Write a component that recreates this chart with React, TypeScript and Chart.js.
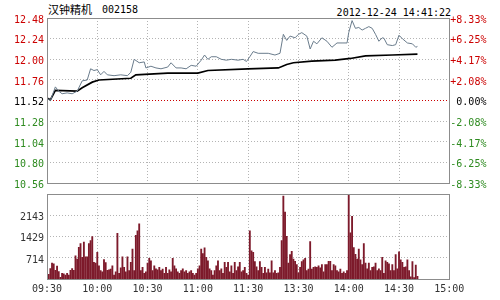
import React, { useEffect, useRef } from "react";
import { Chart, registerables } from "chart.js";
Chart.register(...registerables);

const STOCK_NAME = "汉钟精机";
const STOCK_CODE = "002158";
const TIMESTAMP = "2012-12-24 14:41:22";
const PREV_CLOSE = 11.52;

const PRICE_TICKS = [10.56, 10.8, 11.04, 11.28, 11.52, 11.76, 12.0, 12.24, 12.48];
const PRICE_LABELS = ["10.56", "10.80", "11.04", "11.28", "11.52", "11.76", "12.00", "12.24", "12.48"];
const PCT_LABELS = ["-8.33%", "-6.25%", "-4.17%", "-2.08%", " 0.00%", "+2.08%", "+4.17%", "+6.25%", "+8.33%"];
const TIME_TICKS = [0, 30, 60, 90, 120, 150, 180, 210, 240];
const TIME_LABELS = ["09:30", "10:00", "10:30", "11:00", "11:30", "13:30", "14:00", "14:30", "15:00"];
const VOL_TICKS = [714, 1429, 2143];
const VOL_LABELS = ["714", "1429", "2143"];
const VOL_MAX = 2857;

// minute index (0 = 09:30, 121 = 13:01) and price
const PRICE_MIN = [0, 2, 5, 7, 9, 12, 15, 18, 21, 24, 26, 28, 30, 32, 34, 36, 40, 44, 48, 50, 52, 55, 58, 59, 62, 65, 68, 72, 74, 77, 80, 83, 86, 89, 92, 94, 96, 98, 101, 104, 107, 110, 114, 117, 119, 121, 123, 126, 132, 136, 139, 141, 143, 145, 148, 150, 152, 155, 157, 159, 161, 164, 167, 170, 173, 176, 179, 180, 182, 184, 186, 188, 190, 192, 194, 196, 198, 200, 201, 203, 206, 208, 210, 212, 215, 218, 220, 221];
const PRICE = [11.55, 11.52, 11.68, 11.63, 11.6, 11.61, 11.6, 11.63, 11.75, 11.76, 11.89, 11.87, 11.88, 11.82, 11.86, 11.82, 11.81, 11.82, 11.81, 11.85, 12.0, 11.96, 11.97, 11.9, 11.92, 11.9, 11.89, 11.91, 11.96, 11.9, 11.9, 11.89, 11.93, 11.92, 11.99, 12.05, 12.0, 12.03, 12.03, 12.0, 11.99, 12.0, 11.99, 12.0, 11.975, 12.03, 12.09, 12.07, 12.07, 12.05, 12.07, 12.29, 12.22, 12.27, 12.25, 12.29, 12.31, 12.27, 12.12, 12.21, 12.18, 12.25, 12.21, 12.14, 12.19, 12.19, 12.19, 12.31, 12.45, 12.36, 12.37, 12.34, 12.36, 12.38, 12.36, 12.29, 12.21, 12.25, 12.245, 12.17, 12.16, 12.17, 12.28, 12.24, 12.19, 12.18, 12.14, 12.15];

const AVG_MIN = [0, 2, 5, 18, 21, 27, 31, 50, 53, 72, 90, 96, 120, 138, 143, 147, 158, 172, 181, 190, 206, 221];
const AVG = [11.55, 11.53, 11.64, 11.63, 11.67, 11.735, 11.76, 11.78, 11.82, 11.84, 11.84, 11.87, 11.89, 11.9, 11.94, 11.96, 11.98, 11.99, 12.01, 12.04, 12.05, 12.06];

// one bar per minute, from minute 0
const VOLUME = [
  140, 170, 360, 540, 520, 300, 440, 260, 70, 200,
  180, 140, 200, 140, 300, 360, 300, 790, 680, 1070,
  1200, 740, 1250, 750, 750, 1200, 1300, 1430, 570, 540,
  900, 450, 290, 250, 660, 560, 300, 320, 340, 450,
  140, 250, 1540, 200, 380, 750, 400, 250, 750, 290,
  570, 1010, 290, 1470, 1620, 1860, 290, 400, 200, 250,
  540, 700, 620, 290, 450, 350, 320, 400, 290, 340,
  200, 400, 200, 320, 250, 700, 450, 350, 250, 200,
  290, 350, 250, 290, 200, 250, 290, 200, 140, 200,
  350, 450, 1010, 860, 1050, 740, 620, 350, 290, 140,
  290, 450, 620, 290, 350, 200, 570, 400, 570, 250,
  450, 200, 570, 290, 420, 570, 250, 290, 400, 200,
  140,
  1620, 950, 900, 590, 420, 290, 590, 400, 200, 400,
  220, 340, 220, 620, 220, 290, 200, 220, 400, 1300,
  2790, 2250, 1440, 540, 830, 940, 680, 600, 490, 220,
  400, 590, 650, 700, 290, 340, 1260, 340, 400, 420,
  400, 450, 380, 490, 250, 490, 490, 600, 600, 290,
  490, 450, 290, 250, 340, 200, 250, 200, 290, 3100,
  1560, 2110, 1060, 840, 680, 1010, 650, 490, 1200, 540,
  350, 540, 290, 400, 420, 540, 290, 350, 290, 740,
  200, 620, 570, 520, 290, 490, 290, 830, 350, 920,
  650, 570, 400, 420, 650, 290, 80, 590, 60, 480,
  100,
];

const RED = "#cc0000";
const GREEN = "#2e8b20";
const GRID = "#b4b4b4";
const FRAME = "#8c8c8c";
const MONO = "'DejaVu Sans Mono', monospace";

const framePlugin = {
  id: "frame",
  afterDraw(chart: any) {
    const { ctx, chartArea: a } = chart;
    ctx.save();
    ctx.strokeStyle = FRAME;
    ctx.lineWidth = 1;
    ctx.setLineDash([]);
    const l = Math.round(a.left) + 0.5;
    const t = Math.round(a.top) + 0.5;
    const r = Math.round(a.right) + 0.5;
    const b = Math.round(a.bottom) + 0.5;
    ctx.strokeRect(l, t, r - l, b - t);
    ctx.restore();
  },
};

const colorFor = (v: number) => (v > PREV_CLOSE + 1e-9 ? RED : v < PREV_CLOSE - 1e-9 ? GREEN : "#000");

export default function App() {
  const topRef = useRef<HTMLCanvasElement>(null);
  const botRef = useRef<HTMLCanvasElement>(null);

  useEffect(() => {
    Chart.defaults.font.family = MONO;
    Chart.defaults.font.size = 10;
    const setTicks = (vals: number[]) => (s: any) => {
      s.ticks = vals.map((v) => ({ value: v }));
    };
    const priceData = PRICE_MIN.map((m, i) => ({ x: m, y: PRICE[i] }));
    const avgData = AVG_MIN.map((m, i) => ({ x: m, y: AVG[i] }));
    const volData = VOLUME.map((v, i) => ({ x: i, y: v }));

    const top = new Chart(topRef.current!, {
      type: "line",
      data: {
        datasets: [
          { data: priceData, borderColor: "#6a7c8c", borderWidth: 1, pointRadius: 0, tension: 0, yAxisID: "y" },
          { data: avgData, borderColor: "#000", borderWidth: 1.7, pointRadius: 0, tension: 0, yAxisID: "y" },
        ],
      },
      options: {
        animation: false,
        responsive: false,
        events: [],
        layout: { padding: { top: 18, left: 0, right: 0, bottom: 0 } },
        plugins: { legend: { display: false }, tooltip: { enabled: false } },
        scales: {
          x: {
            type: "linear",
            min: 0,
            max: 240,
            afterBuildTicks: setTicks(TIME_TICKS),
            ticks: { display: false },
            grid: { color: GRID, drawTicks: false },
            border: { display: false, dash: [1, 2] },
            afterFit: (s: any) => { s.height = 11.7; },
          },
          y: {
            position: "left",
            min: PRICE_TICKS[0],
            max: PRICE_TICKS[PRICE_TICKS.length - 1],
            afterBuildTicks: setTicks(PRICE_TICKS),
            ticks: {
              callback: (_v: any, i: number) => PRICE_LABELS[i],
              color: (c: any) => colorFor(c.tick.value),
              padding: 3,
              labelOffset: 2,
            },
            grid: {
              color: (c: any) => (c.tick && Math.abs(c.tick.value - PREV_CLOSE) < 1e-9 ? RED : GRID),
              drawTicks: false,
            },
            border: { display: false, dash: [1, 2] },
            afterFit: (s: any) => { s.width = 47; },
          },
          y1: {
            position: "right",
            min: PRICE_TICKS[0],
            max: PRICE_TICKS[PRICE_TICKS.length - 1],
            afterBuildTicks: setTicks(PRICE_TICKS),
            ticks: {
              callback: (_v: any, i: number) => PCT_LABELS[i],
              color: (c: any) => colorFor(c.tick.value),
              padding: 1,
              labelOffset: 2,
            },
            grid: { display: false, drawTicks: false },
            border: { display: false },
            afterFit: (s: any) => { s.width = 50.7; },
          },
        },
      },
      plugins: [framePlugin],
    } as any);

    const bot = new Chart(botRef.current!, {
      type: "bar",
      data: {
        datasets: [
          { data: volData, backgroundColor: "#7d1a2b", barThickness: 1.2, borderWidth: 0 } as any,
        ],
      },
      options: {
        animation: false,
        responsive: false,
        events: [],
        layout: { padding: { top: 6, left: 0, right: 0, bottom: 0 } },
        plugins: { legend: { display: false }, tooltip: { enabled: false } },
        scales: {
          x: {
            type: "linear",
            min: 0,
            max: 240,
            offset: false,
            afterBuildTicks: setTicks(TIME_TICKS),
            ticks: {
              callback: (_v: any, i: number) => TIME_LABELS[i],
              color: "#333",
              padding: 4,
              maxRotation: 0,
              autoSkip: false,
            },
            grid: { color: GRID, drawTicks: false, offset: false },
            border: { display: false, dash: [1, 2] },
            afterFit: (s: any) => { s.height = 20.7; },
          },
          y: {
            position: "left",
            min: 0,
            max: VOL_MAX,
            afterBuildTicks: setTicks(VOL_TICKS),
            ticks: {
              callback: (_v: any, i: number) => VOL_LABELS[i],
              color: "#333",
              padding: 3,
              labelOffset: 2,
            },
            grid: { color: GRID, drawTicks: false },
            border: { display: false, dash: [1, 2] },
            afterFit: (s: any) => { s.width = 47; },
          },
          y2: {
            position: "right",
            min: 0,
            max: VOL_MAX,
            ticks: { display: false },
            grid: { display: false, drawTicks: false },
            border: { display: false },
            afterFit: (s: any) => { s.width = 50.7; },
          },
        },
      },
      plugins: [framePlugin],
    } as any);

    return () => {
      top.destroy();
      bot.destroy();
    };
  }, []);

  return (
    <div style={{ position: "fixed", left: 0, top: 0, width: 500, height: 300, background: "#fff", overflow: "hidden" }}>
      <span style={{ position: "absolute", left: 48, top: 3, fontFamily: "'Noto Sans CJK SC', sans-serif", fontSize: 11, lineHeight: "12px", color: "#000", whiteSpace: "pre" }}>{STOCK_NAME}</span>
      <span style={{ position: "absolute", left: 102, top: 4, fontFamily: MONO, fontSize: 10, lineHeight: "12px", color: "#000", whiteSpace: "pre" }}>{STOCK_CODE}</span>
      <span style={{ position: "absolute", right: 49, top: 6.5, fontFamily: MONO, fontSize: 10, lineHeight: "12px", color: "#000", whiteSpace: "pre" }}>{TIMESTAMP}</span>
      <canvas ref={topRef} width={500} height={195} style={{ position: "absolute", left: 0, top: 0 }} />
      <canvas ref={botRef} width={500} height={115} style={{ position: "absolute", left: 0, top: 185 }} />
    </div>
  );
}
